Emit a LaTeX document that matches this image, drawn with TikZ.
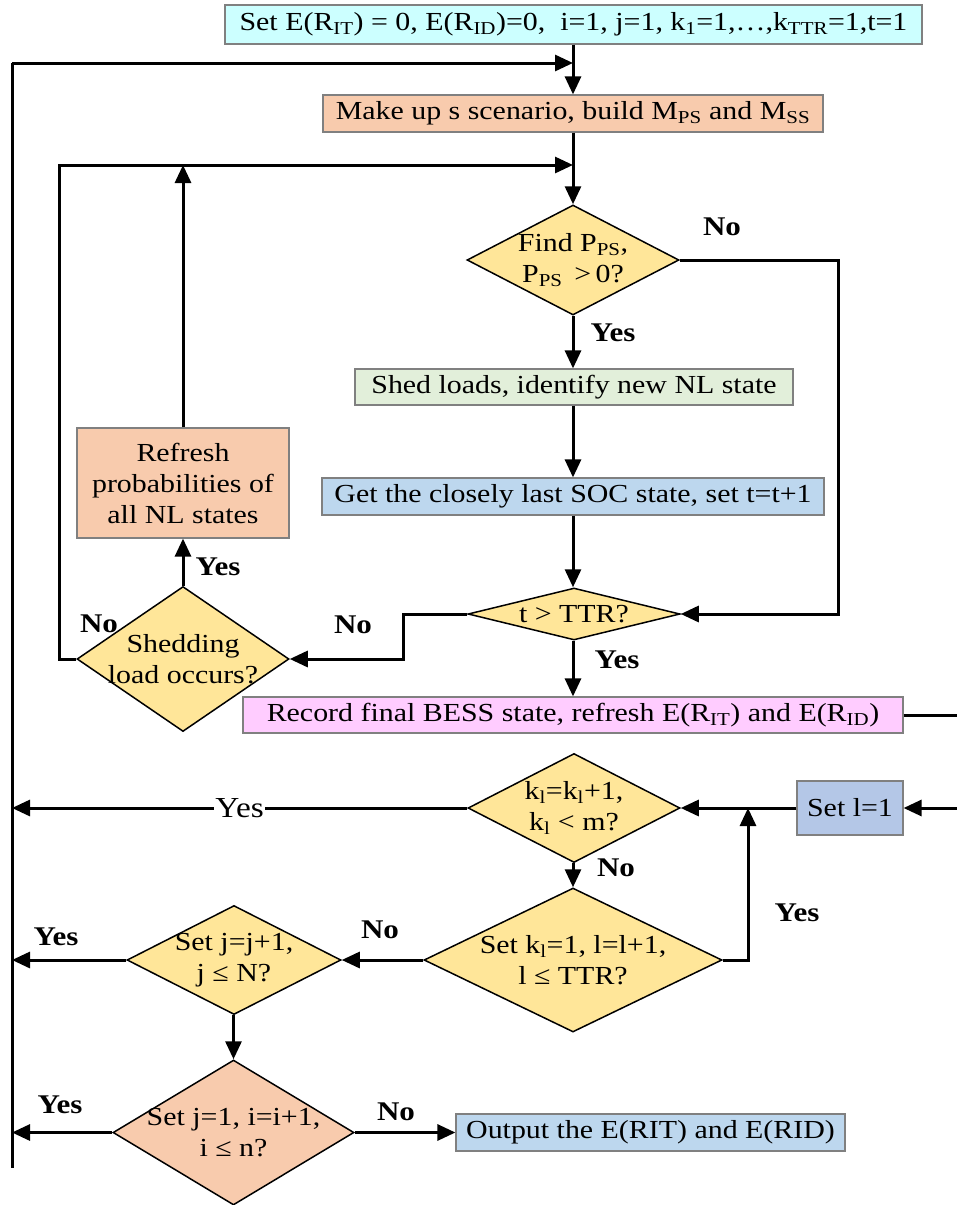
\documentclass[tikz,border=0pt]{standalone}
\usepackage{fontspec}
\setmainfont{Liberation Serif}[FakeStretch=1.15]
\usetikzlibrary{shapes.geometric,arrows.meta}

\definecolor{cyanbox}{HTML}{CCFFFF}
\definecolor{peach}{HTML}{F8CBAD}
\definecolor{greenbox}{HTML}{E2EFDA}
\definecolor{bluebox}{HTML}{BDD7EE}
\definecolor{yellowdia}{HTML}{FFE699}
\definecolor{pinkbox}{HTML}{FFCCFF}
\definecolor{slatebox}{HTML}{B4C7E7}
\definecolor{boxedge}{HTML}{808080}

\tikzset{
  every node/.append style={font=\fontsize{26}{31}\selectfont},
  procbox/.style={rectangle, draw=boxedge, line width=1.2pt, inner sep=0pt, align=center},
  decision/.style={diamond, draw=black, line width=1.5pt, fill=yellowdia, inner sep=0pt},
  dtext/.style={align=center, inner sep=0pt},
  wire/.style={line width=3pt},
  flow/.style={line width=3pt, -{Triangle[length=18pt,width=16pt]}},
  lab/.style={font=\bfseries\fontsize{27}{31}\selectfont, inner sep=0pt},
}

\begin{document}
\begin{tikzpicture}[x=1pt, y=-1pt]
\useasboundingbox (0,0) rectangle (957,1205);

% process boxes
\node[procbox, fill=cyanbox, minimum width=697, minimum height=39] (init) at (573.5,24.5)
  {Set E(R\textsubscript{IT}) = 0, E(R\textsubscript{ID})=0,\ \ i=1, j=1, k\textsubscript{1}=1,…,k\textsubscript{TTR}=1,t=1};
\node[procbox, fill=peach, minimum width=500, minimum height=37] (scen) at (573,113.5)
  {Make up s scenario, build M\textsubscript{PS} and M\textsubscript{SS}};
\node[procbox, fill=greenbox, minimum width=438, minimum height=36] (shed) at (574,387)
  {Shed loads, identify new NL state};
\node[procbox, fill=bluebox, minimum width=502, minimum height=37] (soc) at (573,496.5)
  {Get the closely last SOC state, set t=t+1};
\node[procbox, fill=peach, minimum width=212, minimum height=110] (refresh) at (183,483)
  {Refresh\\probabilities of\\all NL states};
\node[procbox, fill=pinkbox, minimum width=660, minimum height=36] (rec) at (573,715)
  {Record final BESS state, refresh E(R\textsubscript{IT}) and E(R\textsubscript{ID})};
\node[procbox, fill=slatebox, minimum width=106, minimum height=54] (setl) at (850,808)
  {Set l=1};
\node[procbox, fill=bluebox, minimum width=389, minimum height=37] (out) at (650.5,1132.5)
  {Output the E(RIT) and E(RID)};

% decisions
\node[decision, minimum width=212, minimum height=110] (d1) at (573,260) {};
\node[dtext] at (d1) {Find P\textsubscript{PS},\\P\textsubscript{PS} \,>\,0?};
\node[decision, minimum width=212, minimum height=52] (ttr) at (574,614) {};
\node[dtext] at (ttr) {t > TTR?};
\node[decision, minimum width=212, minimum height=145] (occ) at (183,659) {};
\node[dtext] at (occ) {Shedding\\load occurs?};
\node[decision, minimum width=212, minimum height=109] (kl) at (574,808) {};
\node[dtext] at (kl) {k\textsubscript{l}=k\textsubscript{l}+1,\\k\textsubscript{l} < m?};
\node[decision, minimum width=298, minimum height=144] (lttr) at (573,960) {};
\node[dtext] at (lttr) {Set k\textsubscript{l}=1, l=l+1,\\l ≤ TTR?};
\node[decision, minimum width=214, minimum height=109] (jn) at (234,960) {};
\node[dtext] at (jn) {Set j=j+1,\\j ≤ N?};
\node[decision, fill=peach, minimum width=241, minimum height=145] (in) at (233.5,1132.5) {};
\node[dtext] at (in) {Set j=1, i=i+1,\\i ≤ n?};

% junction points and the return rail
\coordinate (lt) at (12,63);
\coordinate (lb) at (12,1168);
\coordinate (j1) at (573,63);
\coordinate (j2) at (573,165);
\coordinate (recout) at (957,715);
\coordinate (setin) at (957,808);
\coordinate (yj) at (748,808);

\draw[wire] (lt) -- (lb);
\draw[flow] (lt) -- (j1);
\draw[flow] (scen.north |- init.south) -- (scen.north);
\draw[flow] (scen.south) -- (d1.north);

% inner loop
\draw[flow] (occ.west) -- ++(-17,0) |- (j2);
\draw[flow] (refresh.north) -- (refresh.north |- j2);
\draw[flow] (occ.north) -- (refresh.south);

\draw[flow] (d1.east) -- ++(159,0) |- (ttr.east);
\draw[flow] (d1.south) -- (shed.north -| d1.south);
\draw[flow] (shed.south -| soc.north) -- (soc.north);
\draw[flow] (soc.south) -- (ttr.north -| soc.south);
\draw[flow] (ttr.west) -- ++(-64,0) |- (occ.east);
\draw[flow] (ttr.south -| rec.north) -- (rec.north);

% outer loops
\draw[wire] (rec.east) -- (recout);
\draw[flow] (setin) -- (setl.east);
\draw[flow] (setl.west) -- (kl.east);
\draw[flow] (kl.west) -- node[fill=white, inner sep=1pt, font=\fontsize{29}{33}\selectfont] {Yes} (kl.west -| lt);
\draw[flow] (kl.south -| lttr.north) -- (lttr.north);
\draw[flow] (lttr.east) -| (yj);
\draw[flow] (lttr.west) -- (jn.east);
\draw[flow] (jn.west) -- (jn.west -| lt);
\draw[flow] (jn.south -| in.north) -- (in.north);
\draw[flow] (in.west) -- (in.west -| lt);
\draw[flow] (in.east) -- (out.west);

% branch labels
\node[lab] (n1) at (722,227) {No};
\node[lab] (y1) at (613,333) {Yes};
\node[lab] (n2) at (353,625) {No};
\node[lab] (y2) at (617,660) {Yes};
\node[lab] (y3) at (218,567) {Yes};
\node[lab] (n3) at (99,624) {No};
\node[lab] (n4) at (616,868) {No};
\node[lab] (y4) at (797,913) {Yes};
\node[lab] (n5) at (380,930) {No};
\node[lab] (y5) at (56,937) {Yes};
\node[lab] (y6) at (60,1105) {Yes};
\node[lab] (n6) at (396,1112) {No};
\end{tikzpicture}
\end{document}
